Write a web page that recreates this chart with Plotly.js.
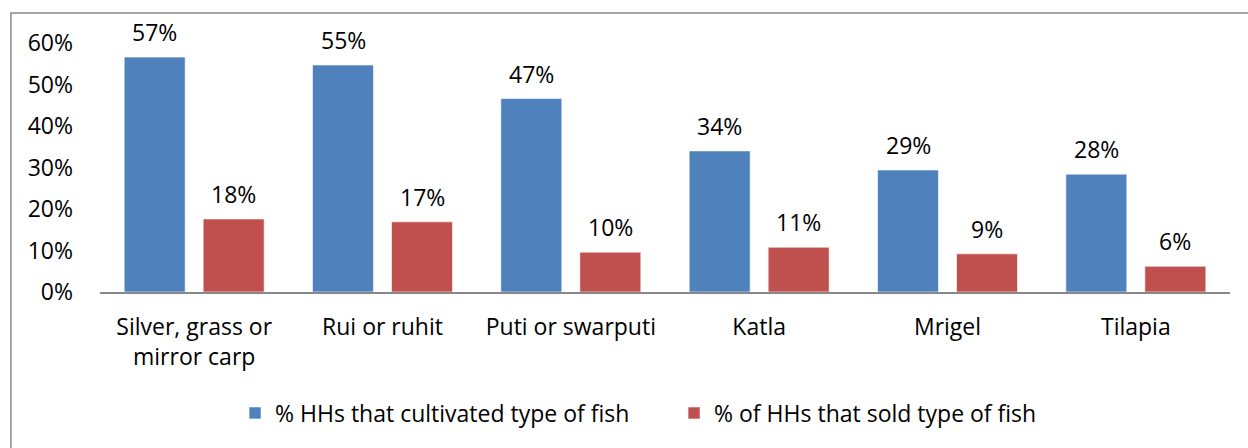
<!DOCTYPE html>
<html>
<head>
<meta charset="utf-8">
<script src="https://cdn.plot.ly/plotly-3.0.1.min.js"></script>
<style>html,body{margin:0;padding:0;background:#fff;}#chart{width:1248px;height:448px;}</style>
</head>
<body>
<div id="chart"></div>
<script>
var categories = ["Silver, grass or<br>mirror carp", "Rui or ruhit", "Puti or swarputi", "Katla", "Mrigel", "Tilapia"];
var cultivated = [0.566, 0.547, 0.466, 0.340, 0.294, 0.284];
var sold = [0.176, 0.169, 0.096, 0.108, 0.092, 0.062];
var seriesNames = ["% HHs that cultivated type of fish", "% of HHs that sold type of fish"];
var yTicks = [0, 0.1, 0.2, 0.3, 0.4, 0.5, 0.6];

var FONT = "'Open Sans', 'Noto Sans', sans-serif";
var FS = 23;
var colors = ["#4f81bd", "#c0504d"];

var traces = [cultivated, sold].map(function (vals, i) {
  return {
    type: "bar",
    name: seriesNames[i],
    x: categories,
    y: vals,
    marker: { color: colors[i], line: { color: "rgba(255,255,255,0.6)", width: 1 } },
    hoverinfo: "skip"
  };
});

function pct(v) { return Math.round(v * 100) + "%"; }

var annotations = [];
[cultivated, sold].forEach(function (vals, i) {
  vals.forEach(function (v, j) {
    annotations.push({
      xref: "x", yref: "y", x: categories[j], y: v,
      text: pct(v), showarrow: false,
      xshift: i === 0 ? -39.5 : 39.5, yshift: 25, yanchor: "middle",
      font: { family: FONT, size: FS, color: "#000" }
    });
  });
});

var layout = {
  width: 1248, height: 448,
  margin: { l: 100, r: 18, t: 43, b: 156 },
  paper_bgcolor: "#fff", plot_bgcolor: "#fff",
  barmode: "group", bargap: 0.161, bargroupgap: 0.228,
  font: { family: FONT, size: FS, color: "#000" },
  xaxis: {
    type: "category", showline: true, linecolor: "#888", linewidth: 1.5,
    ticks: "", showgrid: false, ticklabelstandoff: 14,
    tickfont: { family: FONT, size: FS, color: "#000" }
  },
  yaxis: {
    range: [0, 0.6], tickvals: yTicks, tickformat: ".0%",
    showline: false, showgrid: false, zeroline: false, ticks: "",
    ticklabelstandoff: 26,
    tickfont: { family: FONT, size: FS, color: "#000" }
  },
  showlegend: true,
  legend: {
    orientation: "h", x: 0.508, xanchor: "center", y: -0.486, yanchor: "middle",
    font: { family: FONT, size: FS, color: "#000" }, itemwidth: 30, tracegroupgap: 0,
    entrywidth: 394
  },
  annotations: annotations,
  shapes: [{
    type: "rect", xref: "paper", yref: "paper",
    x0: -0.0788, x1: 1.2, y0: -1.0, y1: 1.1205,
    line: { color: "#888", width: 1.5 }, fillcolor: "rgba(0,0,0,0)", layer: "below"
  }]
};

Plotly.newPlot("chart", traces, layout, { staticPlot: true, displayModeBar: false });
</script>
</body>
</html>
